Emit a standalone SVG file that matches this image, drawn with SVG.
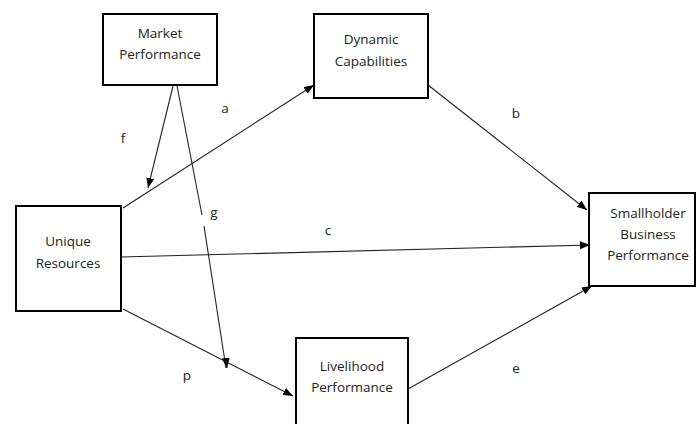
<svg xmlns="http://www.w3.org/2000/svg" width="696" height="424" viewBox="0 0 696 424">
  <style>
    .box { fill: #fff; stroke: #000; stroke-width: 2; }
    .lbl { font-family: "Open Sans", "Liberation Sans", Arial, sans-serif; font-size: 13.5px; fill: #222; text-anchor: middle; }
    .edge { fill: none; stroke: #222; stroke-width: 1.1; marker-end: url(#arrow); }
    .tag { font-family: "Open Sans", "Liberation Sans", Arial, sans-serif; font-size: 13.5px; fill: #222; text-anchor: middle; }
  </style>
  <defs>
    <marker id="arrow" viewBox="0 0 10 8" refX="10" refY="4" markerWidth="10" markerHeight="8" markerUnits="userSpaceOnUse" orient="auto">
      <path d="M0,0 L10,4 L0,8 Z" fill="#000"/>
    </marker>
  </defs>
  <rect width="696" height="424" fill="#fff"/>

  <!-- connectors -->
  <g id="connectors">
    <path class="edge" d="M123,208 L314,85"/>
    <path class="edge" d="M173,86 L148,188"/>
    <path d="M177,86 L202,215 M204,226 L226,368" fill="none" stroke="#222" stroke-width="1.1"/>
    <path class="edge" d="M226,360 L227,368"/>
    <path class="edge" d="M121,257 L590,245"/>
    <path class="edge" d="M123,309 L293,396"/>
    <path class="edge" d="M428,85 L587,210"/>
    <path class="edge" d="M408,389 L592,286"/>
    <text class="tag" x="225" y="113">a</text>
    <text class="tag" x="516" y="118">b</text>
    <text class="tag" x="328" y="235">c</text>
    <text class="tag" x="516" y="373">e</text>
    <text class="tag" x="123" y="143">f</text>
    <text class="tag" x="214" y="217">g</text>
    <text class="tag" x="187" y="380">p</text>
  </g>

  <g id="market">
    <rect class="box" x="103" y="14" width="114" height="71"/>
    <text class="lbl" x="160" y="38">Market</text>
    <text class="lbl" x="160" y="59">Performance</text>
  </g>

  <g id="dynamic">
    <rect class="box" x="314" y="14" width="114" height="84"/>
    <text class="lbl" x="371" y="44">Dynamic</text>
    <text class="lbl" x="371" y="66">Capabilities</text>
  </g>

  <g id="unique">
    <rect class="box" x="16" y="206" width="105" height="105"/>
    <text class="lbl" x="68" y="246">Unique</text>
    <text class="lbl" x="68" y="268">Resources</text>
  </g>

  <g id="smallholder">
    <rect class="box" x="589" y="193" width="106" height="93"/>
    <text class="lbl" x="648" y="218">Smallholder</text>
    <text class="lbl" x="648" y="239">Business</text>
    <text class="lbl" x="648" y="260">Performance</text>
  </g>

  <g id="livelihood">
    <rect class="box" x="296" y="338" width="112" height="100"/>
    <text class="lbl" x="352" y="371">Livelihood</text>
    <text class="lbl" x="352" y="392">Performance</text>
  </g>
</svg>
